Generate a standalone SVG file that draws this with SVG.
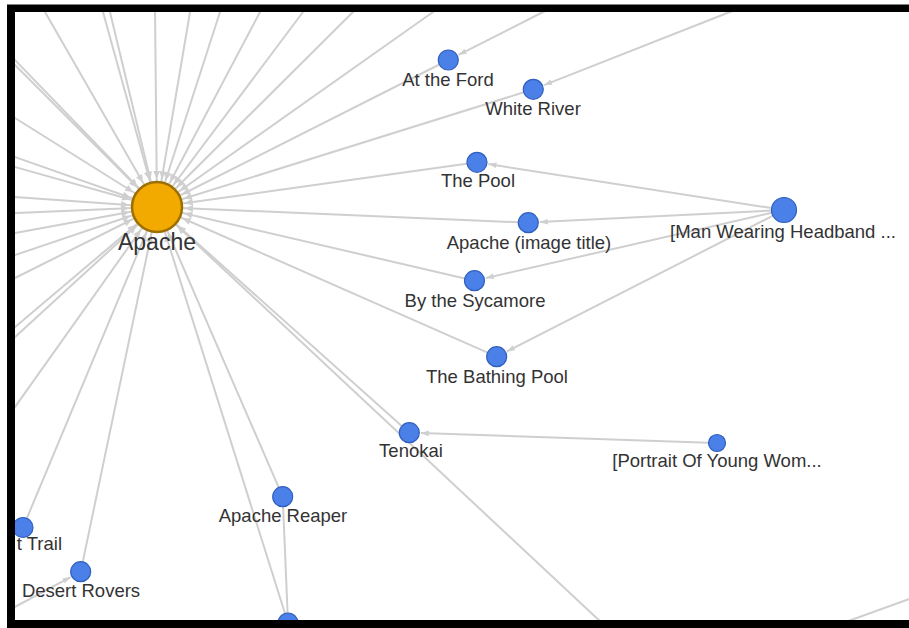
<svg xmlns="http://www.w3.org/2000/svg" width="909" height="628" viewBox="0 0 909 628">
<style>
.e{stroke:#cfcfcf;stroke-width:2;fill:none}
.ea{stroke:#cfcfcf;stroke-width:2;fill:none;marker-end:url(#ma)}
.et{stroke:#cfcfcf;stroke-width:2;fill:none;marker-end:url(#arr)}
.n{fill:#4a80e8;stroke:#2f5fbf;stroke-width:1.2}
.hub{fill:#f3aa00;stroke:#9c6f00;stroke-width:2.5}
.l{font-family:"Liberation Sans",Arial,Helvetica,sans-serif;font-size:18.5px;fill:#333;text-anchor:middle}
.lh{font-size:23px}
</style>
<defs>
<marker id="ma" markerUnits="userSpaceOnUse" viewBox="0 -5 40 10" refX="40" refY="0" markerWidth="40" markerHeight="10" orient="auto">
<path d="M4,-3.5 L12,0 L4,3.5 Z" fill="#cfcfcf"/>
</marker>
<marker id="arr" markerUnits="userSpaceOnUse" viewBox="0 -5 10 10" refX="10" refY="0" markerWidth="8" markerHeight="8" orient="auto">
<path d="M0,-3.5 L10,0 L0,3.5 Z" fill="#cfcfcf"/>
</marker>
</defs>
<rect x="0" y="0" width="909" height="628" fill="#fff"/>
<g id="connectors">
<!-- Apache to off-screen (top) -->
<line class="ea" x1="42.7" y1="8" x2="157" y2="207"/>
<line class="ea" x1="101.9" y1="8" x2="157" y2="207"/>
<line class="ea" x1="109" y1="8" x2="157" y2="207"/>
<line class="ea" x1="155" y1="8" x2="157" y2="207"/>
<line class="ea" x1="190.7" y1="8" x2="157" y2="207"/>
<line class="ea" x1="221.3" y1="8" x2="157" y2="207"/>
<line class="ea" x1="262.1" y1="8" x2="157" y2="207"/>
<line class="ea" x1="306" y1="8" x2="157" y2="207"/>
<line class="ea" x1="357" y1="8" x2="157" y2="207"/>
<line class="ea" x1="438.7" y1="8" x2="157" y2="207"/>
<!-- Apache to off-screen (left) -->
<line class="ea" x1="11" y1="55.9" x2="157" y2="207"/>
<line class="ea" x1="11" y1="61" x2="157" y2="207"/>
<line class="ea" x1="11" y1="115.5" x2="157" y2="207"/>
<line class="ea" x1="11" y1="155.6" x2="157" y2="207"/>
<line class="ea" x1="11" y1="165.9" x2="157" y2="207"/>
<line class="ea" x1="11" y1="196.7" x2="157" y2="207"/>
<line class="ea" x1="11" y1="213.2" x2="157" y2="207"/>
<line class="ea" x1="11" y1="233.7" x2="157" y2="207"/>
<line class="ea" x1="11" y1="256.4" x2="157" y2="207"/>
<line class="ea" x1="11" y1="280" x2="157" y2="207"/>
<line class="ea" x1="11" y1="330.4" x2="157" y2="207"/>
<line class="ea" x1="11" y1="340.7" x2="157" y2="207"/>
<line class="ea" x1="11" y1="412.6" x2="157" y2="207"/>
<line class="ea" x1="603" y1="624" x2="157" y2="207"/>
<!-- Apache to visible nodes -->
<line class="ea" x1="448.3" y1="60" x2="157" y2="207"/>
<line class="ea" x1="533.3" y1="89.3" x2="157" y2="207"/>
<line class="ea" x1="477" y1="162.3" x2="157" y2="207"/>
<line class="ea" x1="528.3" y1="222.7" x2="157" y2="207"/>
<line class="ea" x1="474.5" y1="280.7" x2="157" y2="207"/>
<line class="ea" x1="496.7" y1="356.7" x2="157" y2="207"/>
<line class="ea" x1="409.3" y1="432.7" x2="157" y2="207"/>
<line class="ea" x1="282.7" y1="496.7" x2="157" y2="207"/>
<line class="ea" x1="288" y1="623" x2="157" y2="207"/>
<line class="ea" x1="23" y1="527.5" x2="157" y2="207"/>
<line class="ea" x1="80.7" y1="571.7" x2="157" y2="207"/>
<!-- other edges -->
<line class="e" x1="282.7" y1="496.7" x2="288" y2="623"/>
<line class="e" x1="840" y1="624" x2="915" y2="597"/>
<line class="et" x1="551" y1="8" x2="458.6" y2="54.8"/>
<line class="et" x1="740" y1="8" x2="544" y2="85.1"/>
<line class="et" x1="771.6" y1="208.1" x2="488.4" y2="164.1"/>
<line class="et" x1="771.5" y1="210.6" x2="539.8" y2="222.1"/>
<line class="et" x1="771.8" y1="212.8" x2="485.7" y2="278.1"/>
<line class="et" x1="772.9" y1="215.7" x2="506.9" y2="351.5"/>
<line class="et" x1="708.5" y1="442.7" x2="420.8" y2="433.1"/>
<line class="et" x1="11" y1="609" x2="70.6" y2="577.1"/>
</g>
<g id="node-apache"><circle class="hub" cx="157" cy="207" r="25"/><text class="l lh" x="157" y="250">Apache</text></g>
<g id="node-at-the-ford"><circle class="n" cx="448.3" cy="60" r="10"/><text class="l" x="448" y="86">At the Ford</text></g>
<g id="node-white-river"><circle class="n" cx="533.3" cy="89.3" r="10"/><text class="l" x="533" y="115">White River</text></g>
<g id="node-the-pool"><circle class="n" cx="477" cy="162.3" r="10"/><text class="l" x="478" y="187">The Pool</text></g>
<g id="node-apache-image-title"><circle class="n" cx="528.3" cy="222.7" r="10"/><text class="l" x="529" y="249">Apache (image title)</text></g>
<g id="node-man-wearing-headband"><circle class="n" cx="784" cy="210" r="12.5"/><text class="l" x="783" y="238">[Man Wearing Headband ...</text></g>
<g id="node-by-the-sycamore"><circle class="n" cx="474.5" cy="280.7" r="10"/><text class="l" x="475" y="307">By the Sycamore</text></g>
<g id="node-the-bathing-pool"><circle class="n" cx="496.7" cy="356.7" r="10"/><text class="l" x="497" y="383">The Bathing Pool</text></g>
<g id="node-tenokai"><circle class="n" cx="409.3" cy="432.7" r="10"/><text class="l" x="411" y="457">Tenokai</text></g>
<g id="node-portrait"><circle class="n" cx="717" cy="443" r="8.5"/><text class="l" x="717" y="467">[Portrait Of Young Wom...</text></g>
<g id="node-apache-reaper"><circle class="n" cx="282.7" cy="496.7" r="10"/><text class="l" x="283" y="522">Apache Reaper</text></g>
<g id="node-trail"><circle class="n" cx="23" cy="527.5" r="10"/><text class="l" x="62" y="550" style="text-anchor:end">t Trail</text></g>
<g id="node-desert-rovers"><circle class="n" cx="80.7" cy="571.7" r="10"/><text class="l" x="81" y="597">Desert Rovers</text></g>
<g id="node-bottom"><circle class="n" cx="288" cy="623" r="10"/></g>
<path d="M7,4.5 H909 V628 H7 Z M15,12 V620 H909 V12 Z" fill="#000" fill-rule="evenodd"/>
</svg>
